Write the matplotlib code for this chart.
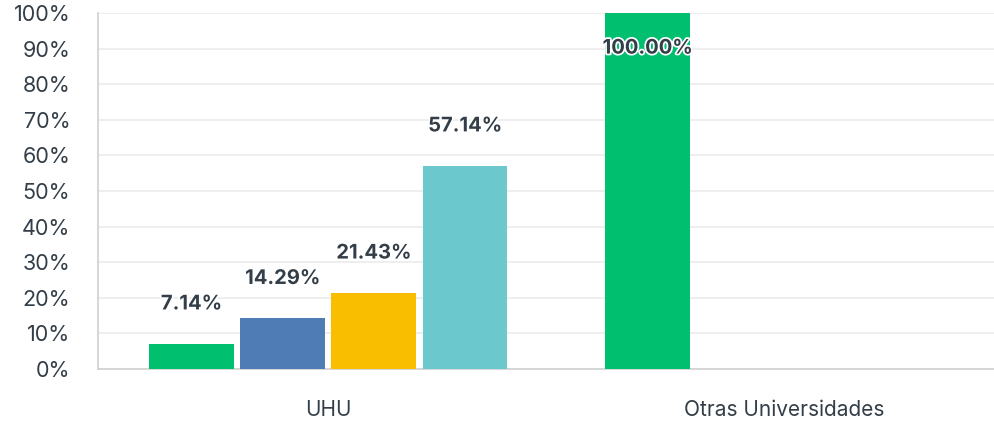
import matplotlib
matplotlib.use("Agg")
import matplotlib.pyplot as plt
import matplotlib.patheffects as pe
import numpy as np

categories = ["UHU", "Otras Universidades"]
series_a = [7.14, 100.00]
series_b = [14.29, 0.0]
series_c = [21.43, 0.0]
series_d = [57.14, 0.0]
yticks = [0, 10, 20, 30, 40, 50, 60, 70, 80, 90, 100]

colors = ["#00BF6F", "#507CB6", "#F9BE00", "#6BC8CD"]
text_color = "#333E48"

plt.rcParams["font.family"] = ["Inter", "DejaVu Sans"]

fig = plt.figure(figsize=(9.94, 4.22), dpi=100)
ax = fig.add_axes([98 / 994, 53 / 422, 1 - 98 / 994, (369 - 13) / 422])

x = np.arange(len(categories))
step = 0.2
width = 0.186
all_series = [series_a, series_b, series_c, series_d]
offsets = [-1.5 * step, -0.5 * step, 0.5 * step, 1.5 * step]

for vals, off, col in zip(all_series, offsets, colors):
    bars = ax.bar(x + off, vals, width=width, color=col, zorder=3)
    for b, v in zip(bars, vals):
        if v <= 0:
            continue
        cx = b.get_x() + b.get_width() / 2
        if v >= 95:
            y = v - 10
        else:
            y = v + 11
        ax.text(cx, y, f"{v:.2f}%", ha="center", va="center", fontsize=14.5,
                fontweight="bold", color=text_color, zorder=5,
                path_effects=[pe.withStroke(linewidth=2.5, foreground="white")])

ax.set_ylim(0, 100)
ax.set_xlim(-0.505, 1.46)
ax.set_yticks(yticks)
ax.set_yticklabels([f"{t}%" for t in yticks])
ax.set_xticks(x)
ax.set_xticklabels(categories)
ax.tick_params(axis="both", length=0, colors=text_color)
ax.tick_params(axis="y", pad=20, labelsize=15.5)
ax.tick_params(axis="x", pad=22, labelsize=15)
ax.grid(axis="y", color="#EBEBEB", linewidth=1.2, zorder=0)
for s in ["top", "right"]:
    ax.spines[s].set_visible(False)
for s in ["left", "bottom"]:
    ax.spines[s].set_color("#D0D0D0")
    ax.spines[s].set_linewidth(1.2)

fig.savefig("out.png", dpi=100)
